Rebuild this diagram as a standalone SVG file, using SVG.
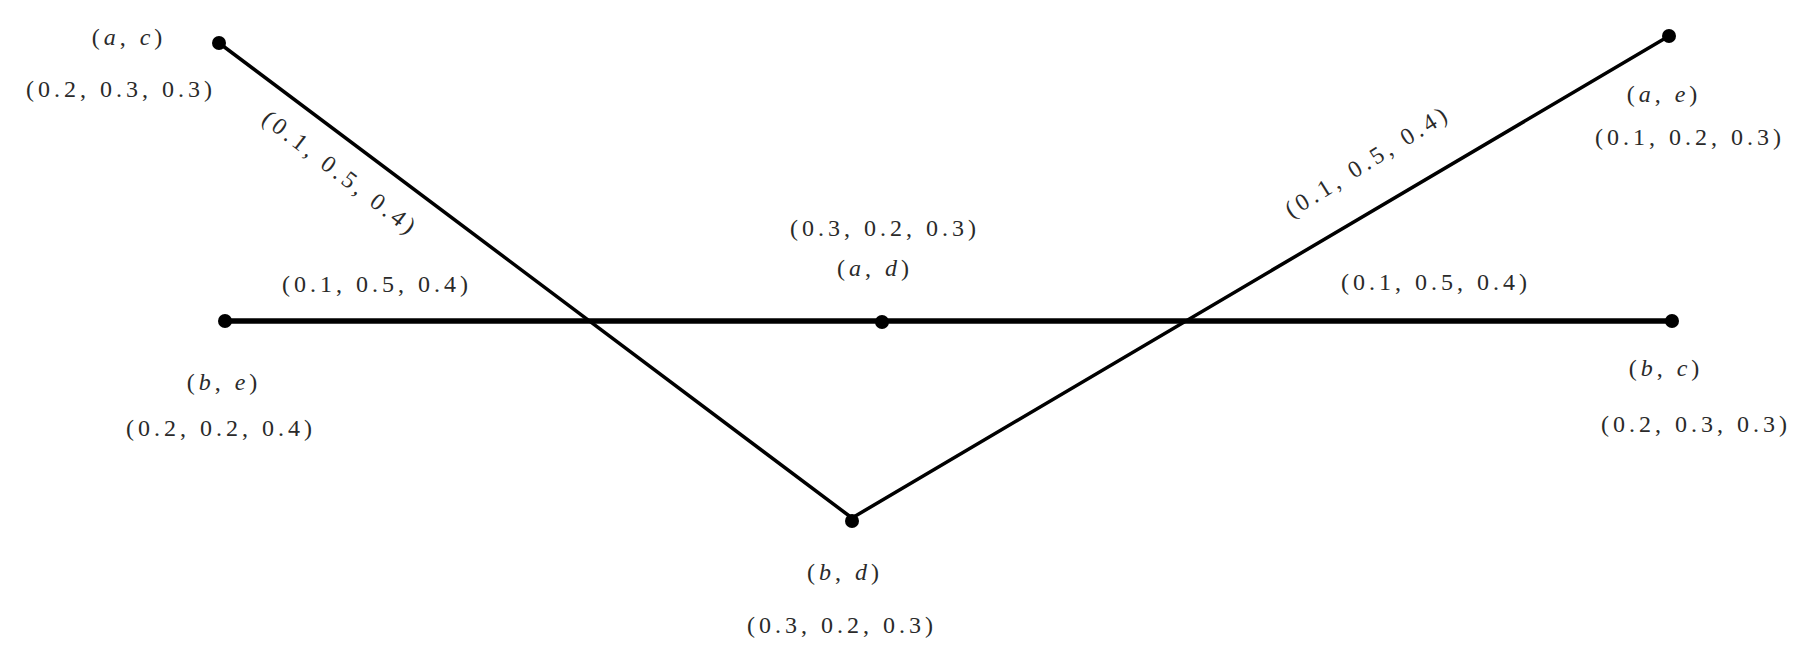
<svg xmlns="http://www.w3.org/2000/svg" width="1811" height="654" viewBox="0 0 1811 654">
<style>
text{font-family:"Liberation Serif","DejaVu Serif",serif;font-size:24px;fill:#2a2a2a;letter-spacing:4px;text-anchor:middle}
.i{font-style:italic}
.edge{stroke:#000;fill:none;stroke-linecap:round}
.thin{stroke-width:3.5}
.thick{stroke-width:5.5}
.dot{fill:#000}
</style>
<rect width="1811" height="654" fill="#fff"/>
<g id="connectors">
<line class="edge thin" x1="219" y1="43" x2="852" y2="518"/>
<line class="edge thin" x1="852" y1="518" x2="1669" y2="36"/>
<line class="edge thick" x1="225" y1="321" x2="1672" y2="321"/>
<g transform="translate(340,174) rotate(37.5)"><text x="0" y="7">(0.1, 0.5, 0.4)</text></g>
<g transform="translate(1368,162) rotate(-32)"><text x="0" y="7">(0.1, 0.5, 0.4)</text></g>
<text x="377" y="292">(0.1, 0.5, 0.4)</text>
<text x="1436" y="290">(0.1, 0.5, 0.4)</text>
</g>
<g id="node-ac">
<circle class="dot" cx="219" cy="43" r="7"/>
<text x="129" y="45">(<tspan class="i">a</tspan>, <tspan class="i">c</tspan>)</text>
<text x="121" y="97">(0.2, 0.3, 0.3)</text>
</g>
<g id="node-ae">
<circle class="dot" cx="1669" cy="36" r="7"/>
<text x="1664" y="102">(<tspan class="i">a</tspan>, <tspan class="i">e</tspan>)</text>
<text x="1690" y="145">(0.1, 0.2, 0.3)</text>
</g>
<g id="node-be">
<circle class="dot" cx="225" cy="321" r="7"/>
<text x="224" y="390">(<tspan class="i">b</tspan>, <tspan class="i">e</tspan>)</text>
<text x="221" y="436">(0.2, 0.2, 0.4)</text>
</g>
<g id="node-ad">
<circle class="dot" cx="882" cy="322" r="7"/>
<text x="875" y="276">(<tspan class="i">a</tspan>, <tspan class="i">d</tspan>)</text>
<text x="885" y="236">(0.3, 0.2, 0.3)</text>
</g>
<g id="node-bc">
<circle class="dot" cx="1672" cy="321" r="7"/>
<text x="1666" y="376">(<tspan class="i">b</tspan>, <tspan class="i">c</tspan>)</text>
<text x="1696" y="432">(0.2, 0.3, 0.3)</text>
</g>
<g id="node-bd">
<circle class="dot" cx="852" cy="521" r="7"/>
<text x="845" y="580">(<tspan class="i">b</tspan>, <tspan class="i">d</tspan>)</text>
<text x="842" y="633">(0.3, 0.2, 0.3)</text>
</g>
</svg>
